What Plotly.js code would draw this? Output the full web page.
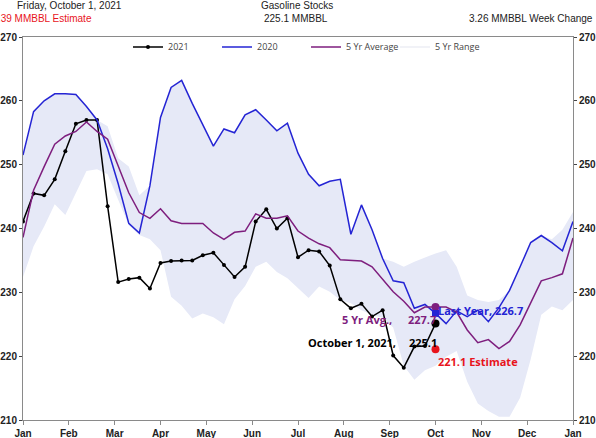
<!DOCTYPE html>
<html>
<head>
<meta charset="utf-8">
<script src="https://cdn.plot.ly/plotly-3.0.1.min.js"></script>
<style>html,body{margin:0;padding:0;background:#fff;}#chart{width:596px;height:438px;}</style>
</head>
<body>
<div id="chart"></div>
<script>
// ---- data (weekly, week 0 = first week of January) ----
var monthLabels = ["Jan","Feb","Mar","Apr","May","Jun","Jul","Aug","Sep","Oct","Nov","Dec","Jan"];

var stocks2021 = [241.1, 245.5, 245.2, 247.7, 252.1, 256.4, 257.0, 257.0, 243.5, 231.6,
  232.1, 232.3, 230.6, 234.6, 234.9, 235.0, 235.0, 235.8, 236.2, 234.3,
  232.4, 234.0, 241.1, 243.0, 240.0, 241.6, 235.5, 236.6, 236.4, 234.2,
  228.9, 227.5, 228.2, 226.2, 227.2, 220.1, 218.2, 221.5, 221.6, 225.1];

var stocks2020 = [251.5, 258.3, 260.0, 261.1, 261.1, 261.0, 259.1, 257.0, 252.5, 247.0,
  240.8, 239.3, 246.7, 257.4, 262.1, 263.2, 259.6, 256.2, 252.9, 255.6,
  255.0, 257.8, 258.6, 257.0, 255.3, 256.5, 251.8, 248.5, 246.7, 247.4,
  247.7, 239.1, 243.7, 239.8, 235.3, 231.8, 231.5, 227.5, 228.1, 226.7,
  225.1, 227.1, 226.2, 227.2, 225.4, 227.6, 230.3, 234.0, 237.8, 238.9,
  237.8, 236.5, 241.1];

var avg5yr = [238.6, 246.0, 249.7, 253.2, 254.5, 255.2, 256.7, 255.2, 254.0, 249.9,
  245.6, 242.5, 241.6, 243.1, 241.2, 240.8, 240.8, 240.8, 239.3, 238.3,
  239.4, 239.6, 242.3, 241.6, 241.6, 242.0, 239.6, 238.5, 237.6, 237.0,
  235.1, 235.0, 234.9, 234.0, 232.0, 230.1, 228.6, 226.8, 227.7, 227.7,
  227.7, 226.9, 224.1, 222.1, 222.6, 221.2, 222.3, 224.9, 228.3, 231.8,
  232.3, 232.9, 238.5];

var rangeLow = [232.4, 237.2, 240.3, 243.8, 242.1, 245.5, 249.0, 249.3, 248.5, 244.5,
  240.5, 239.0, 238.3, 236.6, 229.3, 227.9, 225.9, 226.7, 226.1, 225.0,
  228.9, 231.0, 234.0, 234.8, 233.2, 232.2, 230.6, 229.1, 230.9, 230.1,
  228.8, 228.3, 227.2, 226.5, 226.0, 224.5, 218.5, 216.3, 217.8, 218.5,
  219.9, 220.8, 216.0, 212.6, 211.4, 210.5, 210.5, 213.5, 219.5, 226.5,
  227.8, 227.2, 228.8];

var rangeHigh = [251.5, 258.3, 260.0, 261.1, 261.1, 261.0, 259.1, 257.0, 256.0, 251.0,
  249.7, 245.2, 246.7, 257.4, 262.1, 263.2, 259.6, 256.2, 252.9, 255.6,
  255.0, 257.8, 258.6, 257.0, 255.3, 256.5, 251.8, 248.5, 246.7, 247.4,
  247.7, 239.1, 243.7, 239.8, 235.3, 234.8, 234.0, 234.8, 235.5, 236.1,
  236.6, 234.0, 229.5, 228.8, 228.5, 228.8, 230.3, 234.0, 237.8, 238.9,
  238.3, 239.8, 242.6];

var estimateValue = 221.1;
var estimateChange = -3.39;
var weekChange = 3.26;
var reportDate = "Friday, October 1, 2021";
var shortDate = "October 1, 2021";

// ---- derived ----
function weeks(arr){ return arr.map(function(_, i){ return i; }); }
var nWeeks = 52;
var tickVals = monthLabels.map(function(_, i){ return i * nWeeks / 12; });
var lastIdx = stocks2021.length - 1;
var lastVal = stocks2021[lastIdx];
var lastAvg = avg5yr[lastIdx];
var lastYear = stocks2020[lastIdx];

var BLUE = "#2424d4", PURPLE = "#7e1e7e", BAND = "#e6e9f7";

var traces = [
  {x: weeks(rangeLow), y: rangeLow, type: "scatter", mode: "lines",
   line: {width: 0, color: BAND}, hoverinfo: "skip", showlegend: false},
  {x: weeks(rangeHigh), y: rangeHigh, type: "scatter", mode: "lines", fill: "tonexty",
   fillcolor: BAND, line: {width: 0, color: BAND}, hoverinfo: "skip", showlegend: false},
  {x: weeks(stocks2021), y: stocks2021, type: "scatter", mode: "lines+markers", name: "2021",
   line: {color: "#000", width: 1.5}, marker: {color: "#000", size: 4}},
  {x: weeks(stocks2020), y: stocks2020, type: "scatter", mode: "lines", name: "2020",
   line: {color: BLUE, width: 1.5}},
  {x: weeks(avg5yr), y: avg5yr, type: "scatter", mode: "lines", name: "5 Yr Average",
   line: {color: PURPLE, width: 1.5}},
  {x: [null], y: [null], type: "scatter", mode: "lines", name: "5 Yr Range",
   line: {color: "#eceef4", width: 1.5}},
  {x: [lastIdx], y: [lastAvg], type: "scatter", mode: "markers", showlegend: false,
   marker: {color: PURPLE, size: 8}},
  {x: [lastIdx], y: [lastYear], type: "scatter", mode: "markers", showlegend: false,
   marker: {color: BLUE, size: 7, symbol: "square"}},
  {x: [lastIdx], y: [lastVal], type: "scatter", mode: "markers", showlegend: false,
   marker: {color: "#000", size: 8}},
  {x: [lastIdx], y: [estimateValue], type: "scatter", mode: "markers", showlegend: false,
   marker: {color: "#e8141c", size: 8}}
];

var annFont = function(c){ return {family: "Open Sans, sans-serif", size: 11, color: c, weight: "bold"}; };
var topFont = function(c){ return {family: "Liberation Sans, Arial, sans-serif", size: 10, color: c}; };
function px(x){ return (x - 23) / 550; }
function py(y){ return 1 + (37 - y) / 383; }

var annotations = [
  {xref: "paper", yref: "paper", x: px(15), y: py(6), xanchor: "left", yanchor: "middle",
   text: reportDate, showarrow: false, font: topFont("#222")},
  {xref: "paper", yref: "paper", x: px(94), y: py(18), xanchor: "right", yanchor: "middle",
   text: estimateChange.toFixed(2) + " MMBBL Estimate", showarrow: false, font: topFont("#e8141c")},
  {xref: "paper", yref: "paper", x: px(297), y: py(6), xanchor: "center", yanchor: "middle",
   text: "Gasoline Stocks", showarrow: false, font: topFont("#222")},
  {xref: "paper", yref: "paper", x: px(296), y: py(18), xanchor: "center", yanchor: "middle",
   text: lastVal.toFixed(1) + " MMBBL", showarrow: false, font: topFont("#222")},
  {xref: "paper", yref: "paper", x: px(595), y: py(18), xanchor: "right", yanchor: "middle",
   text: weekChange.toFixed(2) + " MMBBL Week Change", showarrow: false, font: topFont("#222")},

  {x: lastIdx, y: lastYear, xanchor: "left", yanchor: "middle", xshift: 0, yshift: 3,
   text: "Last Year, " + lastYear.toFixed(1), showarrow: false, font: annFont(BLUE)},
  {x: lastIdx, y: lastAvg, xanchor: "right", yanchor: "middle", xshift: -42, yshift: -12,
   text: "5 Yr Avg.,", showarrow: false, font: annFont(PURPLE)},
  {x: lastIdx, y: lastAvg, xanchor: "right", yanchor: "middle", xshift: 2, yshift: -12,
   text: lastAvg.toFixed(1), showarrow: false, font: annFont(PURPLE)},
  {x: lastIdx, y: lastVal, xanchor: "right", yanchor: "middle", xshift: -38, yshift: -19,
   text: shortDate + ",", showarrow: false, font: annFont("#000")},
  {x: lastIdx, y: lastVal, xanchor: "right", yanchor: "middle", xshift: 3, yshift: -19,
   text: lastVal.toFixed(1), showarrow: false, font: annFont("#000")},
  {x: lastIdx, y: estimateValue, xanchor: "left", yanchor: "middle", xshift: 0, yshift: -12,
   text: estimateValue.toFixed(1) + " Estimate", showarrow: false, font: annFont("#e8141c")}
];

var tickFont = {family: "Liberation Sans, Arial, sans-serif", size: 10, color: "#222", weight: "bold"};
var layout = {
  width: 596, height: 438,
  margin: {l: 23, r: 23, t: 37, b: 18, pad: 0},
  paper_bgcolor: "#fff", plot_bgcolor: "#fff",
  showlegend: true,
  legend: {orientation: "h", x: px(128), y: 1.012, xanchor: "left", yanchor: "top",
    bgcolor: "rgba(0,0,0,0)", font: {family: "Open Sans, sans-serif", size: 9, color: "#444"},
    entrywidth: 44, traceorder: "normal"},
  xaxis: {range: [0, nWeeks], tickvals: tickVals, ticktext: monthLabels,
    showgrid: false, zeroline: false, showline: true, linecolor: "#8a8a8a", linewidth: 1,
    mirror: true, ticks: "outside", ticklen: 4, tickcolor: "#8a8a8a", tickfont: tickFont},
  yaxis: {range: [210, 270], dtick: 10, showgrid: false, zeroline: false, showline: true,
    linecolor: "#8a8a8a", linewidth: 1, ticks: "outside", ticklen: 3, tickcolor: "#444",
    tickfont: tickFont},
  yaxis2: {range: [210, 270], dtick: 10, overlaying: "y", side: "right", showgrid: false,
    zeroline: false, showline: true, linecolor: "#8a8a8a", linewidth: 1, ticks: "outside",
    ticklen: 3, tickcolor: "#444", tickfont: tickFont},
  annotations: annotations
};

// invisible trace to attach the right-hand axis
traces.push({x: [0], y: [210], yaxis: "y2", type: "scatter", mode: "markers",
  marker: {opacity: 0}, showlegend: false, hoverinfo: "skip"});

Plotly.newPlot("chart", traces, layout, {displayModeBar: false, staticPlot: true});
</script>
</body>
</html>
